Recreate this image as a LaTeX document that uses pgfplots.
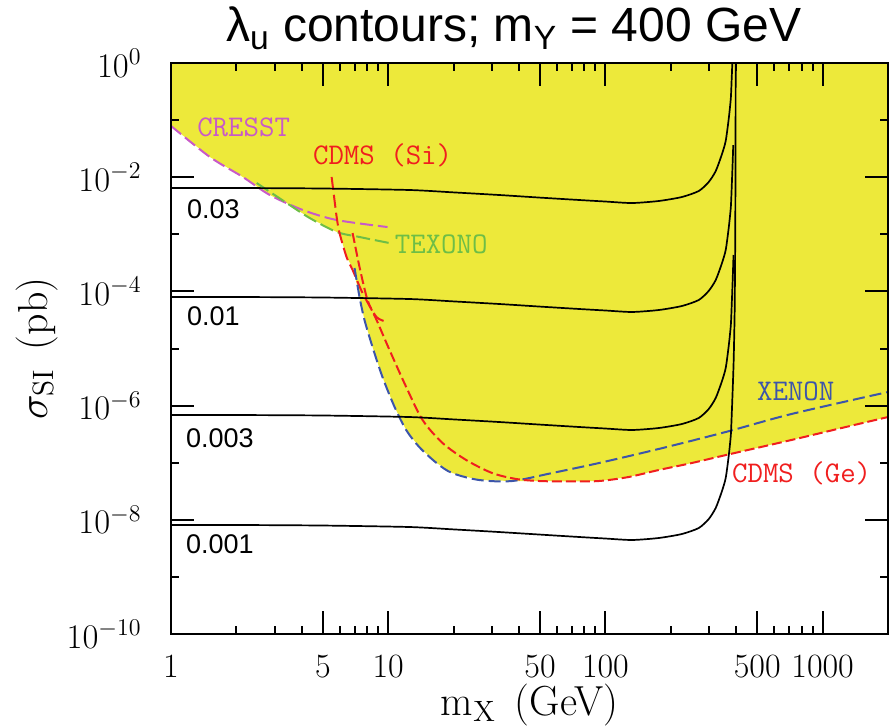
\documentclass[border=0pt]{standalone}
\usepackage{fontspec}
\usepackage{pgfplots}
\pgfplotsset{compat=1.18}
\newfontfamily\arialfont{Liberation Sans}
\definecolor{fillyellow}{RGB}{237,233,58}
\definecolor{cresstc}{RGB}{200,90,200}
\definecolor{cdmsc}{RGB}{240,30,30}
\definecolor{texonoc}{RGB}{110,190,70}
\definecolor{xenonc}{RGB}{60,85,170}
\begin{document}
\begin{tikzpicture}
\begin{axis}[
  xmode=log, ymode=log,
  scale only axis, width=358.5pt, height=285.5pt,
  xmin=1, xmax=2000, ymin=1e-10, ymax=1,
  axis on top, clip=false, no markers,
  xtick={1,5,10,50,100,500,1000},
  xticklabels={1,5,10,50,100,500,1000},
  minor xtick={2,3,4,6,7,8,9,20,30,40,60,70,80,90,200,300,400,600,700,800,900},
  ytick={1e-10,1e-8,1e-6,1e-4,1e-2,1},
  minor ytick={1e-9,1e-7,1e-5,1e-3,1e-1},
  major tick length=11.5pt, minor tick length=4pt,
  tick style={black, line width=1pt},
  axis line style={line width=1.2pt},
  tick label style={font=\fontsize{17}{20}\selectfont},
  xticklabel style={inner sep=0pt, yshift=-10.5pt},
  yticklabel style={inner sep=0pt, xshift=-14.5pt},
  xlabel={$\mathrm{m}_{\mathrm{X}}$\hspace{0.45em}(GeV)},
  ylabel={$\sigma_{\mathrm{SI}}$\hspace{0.45em}(pb)},
  label style={font=\fontsize{21}{24}\selectfont, inner sep=0pt},
  xlabel style={at={(rel axis cs:0.5,-0.1611)}, anchor=south},
  ylabel style={at={(rel axis cs:-0.1576,0.5)}, anchor=south},
]
\coordinate (bl) at (rel axis cs:0,0);
\coordinate (tr) at (rel axis cs:1,1);

% excluded region (envelope of the limits)
\addplot[draw=none, fill=fillyellow, forget plot] coordinates {
 (1,7.9e-2) (1.51,2.26e-2) (2.14,1.01e-2) (2.85,4.88e-3)
 (3.41,3.53e-3) (4.35,1.93e-3) (5.79,1.10e-3)
 (5.97,1.05e-3) (6.43,4.00e-4) (6.93,2.45e-4)
 (7.38,7.98e-5) (7.78,3.16e-5) (8.47,1.06e-5) (9.41,3.17e-6) (10.7,9.45e-7)
 (12.1,3.74e-7) (13.9,1.88e-7) (16.7,9.88e-8) (19.7,6.60e-8) (26.2,4.98e-8) (37.2,4.78e-8)
 (49.5,4.78e-8) (68.0,4.69e-8) (93.5,4.78e-8) (128,5.62e-8) (176,7.45e-8) (250,9.88e-8)
 (358,1.36e-7) (719,2.50e-7) (1222,4.05e-7) (2000,6.31e-7)
 (2000,1) (1,1)
};

% CRESST
\addplot[cresstc, line width=1pt, dash pattern=on 6.5pt off 2.5pt, smooth, tension=0.5] coordinates {
 (1,7.9e-2) (1.51,2.26e-2) (2.14,1.01e-2) (2.85,4.88e-3) (4.04,2.67e-3) (5.79,1.78e-3) (9.93,1.34e-3)
};
% TEXONO
\addplot[texonoc, line width=1pt, dash pattern=on 7pt off 2.5pt, smooth, tension=0.5] coordinates {
 (2.48,7.91e-3) (3.41,3.53e-3) (4.35,1.93e-3) (5.79,1.10e-3) (7.38,8.97e-4) (10.1,7.05e-4)
};
% CDMS (Si)
\addplot[cdmsc, line width=1pt, dash pattern=on 6.5pt off 2.5pt, smooth, tension=0.4] coordinates {
 (5.49,1.01e-2) (5.79,2.01e-3) (5.97,1.05e-3) (6.43,4.00e-4) (6.86,2.37e-4) (7.62,9.37e-5) (8.83,3.56e-5) (9.93,2.91e-5)
};
% XENON
\addplot[xenonc, line width=1pt, dash pattern=on 6pt off 2.5pt, smooth, tension=0.5] coordinates {
 (7.00,2.57e-4) (7.38,7.98e-5) (7.78,3.16e-5) (8.47,1.06e-5) (9.41,3.17e-6) (10.7,9.45e-7)
 (12.1,3.74e-7) (13.9,1.88e-7) (16.7,9.88e-8) (19.7,6.60e-8) (26.2,4.98e-8) (37.2,4.78e-8)
 (56.9,6.60e-8) (93.5,9.88e-8) (176,1.74e-7) (358,3.45e-7) (719,7.13e-7) (2000,1.73e-6)
};
% CDMS (Ge)
\addplot[cdmsc, line width=1pt, dash pattern=on 5pt off 2pt, smooth, tension=0.5] coordinates {
 (6.86,1.05e-3) (7.38,2.67e-4) (8.03,7.07e-5) (8.84,3.16e-5) (10.14,9.42e-6) (12.1,2.12e-6)
 (14.4,5.60e-7) (17.8,2.21e-7) (22.9,1.11e-7) (30.1,6.60e-8) (38.8,5.19e-8) (49.5,4.78e-8)
 (68.0,4.69e-8) (93.5,4.78e-8) (128,5.62e-8) (176,7.45e-8) (250,9.88e-8) (358,1.36e-7)
 (719,2.50e-7) (1222,4.05e-7) (2000,6.31e-7)
};

% lambda_u contours
\addplot[black, line width=0.85pt, smooth, tension=0.4] coordinates {
 (1,6.47e-3) (2,6.47e-3) (5,6.34e-3) (12.5,5.97e-3) (20,5.42e-3) (32.4,4.88e-3) (50,4.39e-3)
 (75.7,3.99e-3) (100,3.75e-3) (132.5,3.53e-3) (176,3.83e-3) (225,4.50e-3) (269,5.73e-3)
 (299,8.24e-3) (322,1.28e-2) (343,2.45e-2) (358,4.31e-2) (370,0.109) (378,0.244) (381.6,0.546) (384,1)
};
\addplot[black, line width=0.85pt, smooth, tension=0.4] coordinates {
 (1,7.98e-5) (2,7.98e-5) (5,7.82e-5) (12.5,7.36e-5) (20,6.68e-5) (32.4,6.02e-5) (50,5.42e-5)
 (75.7,4.92e-5) (100,4.63e-5) (132.5,4.36e-5) (176,4.72e-5) (225,5.55e-5) (269,7.07e-5)
 (299,1.02e-4) (322,1.58e-4) (343,3.02e-4) (358,5.31e-4) (370,1.34e-3) (378,3.01e-3)
 (381.6,6.73e-3) (385.5,1.85e-2) (387.8,3.66e-2)
};
\addplot[black, line width=0.85pt, smooth, tension=0.4] coordinates {
 (1,6.84e-7) (2,6.84e-7) (5,6.71e-7) (12.5,6.31e-7) (20,5.73e-7) (32.4,5.16e-7) (50,4.65e-7)
 (75.7,4.22e-7) (100,3.97e-7) (132.5,3.74e-7) (176,4.05e-7) (225,4.76e-7) (269,6.07e-7)
 (299,8.72e-7) (322,1.36e-6) (343,2.59e-6) (358,4.55e-6) (370,1.15e-5) (378,2.58e-5)
 (381.6,5.78e-5) (385.5,1.58e-4) (388.9,4.34e-4)
};
\addplot[black, line width=0.85pt, smooth, tension=0.4] coordinates {
 (1,8.11e-9) (2,8.11e-9) (5,7.94e-9) (12.5,7.48e-9) (20,6.79e-9) (32.4,6.11e-9) (50,5.51e-9)
 (75.7,5.00e-9) (100,4.70e-9) (132.5,4.43e-9) (176,4.80e-9) (225,5.64e-9) (269,7.18e-9)
 (299,1.03e-8) (322,1.61e-8) (343,3.07e-8) (358,5.40e-8) (370,1.36e-7) (378,3.06e-7)
 (381.6,6.84e-7) (385.5,1.88e-6) (389.6,6.29e-6) (393.7,4.72e-5) (396,7.94e-4) (397.2,2.00e-2) (398,1)
};

% contour labels
\begin{scope}[every node/.style={anchor=base west, inner sep=0pt, font=\arialfont\fontsize{13.5}{16}\selectfont}]
\node at (axis cs:1.18,1.93e-3) {0.03};
\node at (axis cs:1.18,2.58e-5) {0.01};
\node at (axis cs:1.17,1.88e-7) {0.003};
\node at (axis cs:1.17,2.62e-9) {0.001};
\end{scope}
% experiment labels
\begin{scope}[every node/.style={anchor=base west, inner sep=0pt, font=\ttfamily\addfontfeatures{FakeBold=1.2}\fontsize{15}{18}\selectfont}]
\node[text=cresstc] at (axis cs:1.316,5.06e-2) {CRESST};
\node[text=cdmsc] at (axis cs:4.49,1.64e-2) {CDMS (Si)};
\node[text=texonoc] at (axis cs:10.69,4.52e-4) {TEXONO};
\node[text=xenonc] at (axis cs:497,1.25e-6) {XENON};
\node[text=cdmsc] at (axis cs:381.5,4.59e-8) {CDMS (Ge)};
\end{scope}
% title
\node[anchor=base, inner sep=0pt, font=\arialfont\fontsize{24}{28}\selectfont] at (rel axis cs:0.478,1.0368)
 {λ\textsubscript{u} contours; m\textsubscript{Y} = 400 GeV};
\end{axis}
\pgfresetboundingbox
\path ([xshift=-85.5pt,yshift=-47pt]bl) rectangle ([xshift=1pt,yshift=31.5pt]tr);
\end{tikzpicture}
\end{document}
